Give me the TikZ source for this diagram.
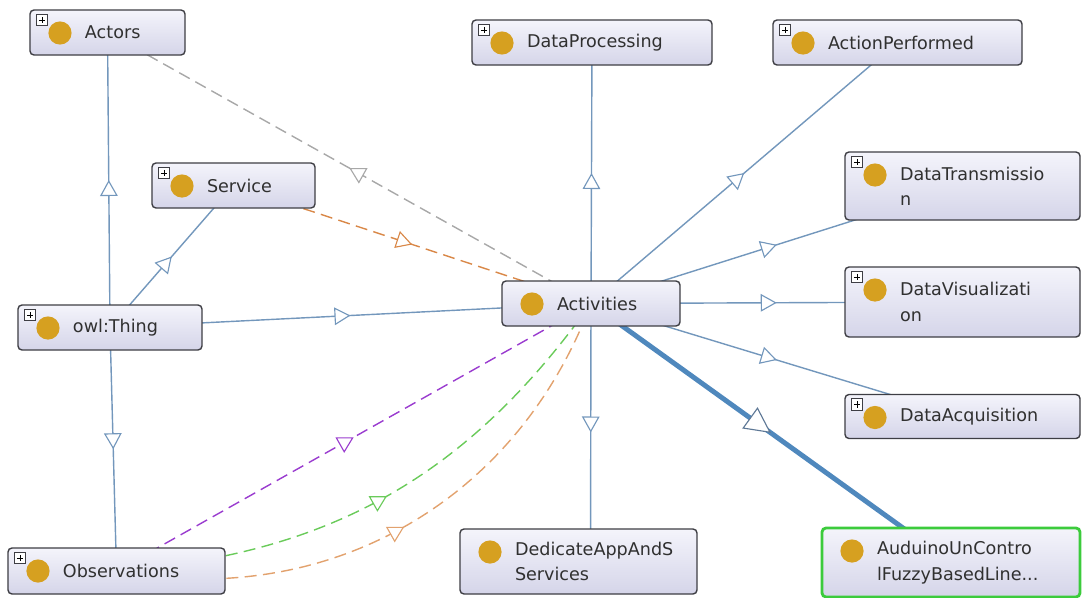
\documentclass[tikz,border=0pt]{standalone}
\usepackage{fontspec}
\setmainfont{DejaVu Sans}
\usepackage{xcolor}
\usepackage{tikz}
\usetikzlibrary{arrows.meta, decorations.markings}

\pgfdeclarelayer{bg}
\pgfsetlayers{bg,main}

\definecolor{boxtop}{HTML}{F4F4FB}
\definecolor{boxbot}{HTML}{D5D5E9}
\definecolor{boxline}{HTML}{3E3E44}
\definecolor{bulb}{HTML}{D6A020}
\definecolor{txt}{HTML}{303030}
\definecolor{isablue}{HTML}{7397BC}
\definecolor{tipblue}{HTML}{5E7896}
\definecolor{heavyblue}{HTML}{4F88BD}
\definecolor{selgreen}{HTML}{3CCB3C}
\definecolor{relgray}{HTML}{A8A8A8}
\definecolor{relorange}{HTML}{D98848}
\definecolor{relpurple}{HTML}{9A3CCF}
\definecolor{relgreen}{HTML}{6ACB5A}
\definecolor{relpeach}{HTML}{E2A26E}

\hyphenpenalty=10000
\exhyphenpenalty=10000

\begin{document}
\begin{tikzpicture}[
    x=0.25mm, y=-0.25mm,
    cls/.style={draw=boxline, line width=1pt, rounded corners=1mm,
        top color=boxtop, bottom color=boxbot, inner sep=0pt, align=left,
        font=\fontsize{12.5}{18}\selectfont, text=txt,
        path picture={\fill[bulb] ([xshift=7.5mm,yshift=-5.75mm]path picture bounding box.north west) circle (2.9mm);}},
    expand/.style={cls,
        path picture={\fill[bulb] ([xshift=7.5mm,yshift=-5.75mm]path picture bounding box.north west) circle (2.9mm);
            \draw[sharp corners, fill=white, draw=boxline, line width=0.6pt]
                ([xshift=1.6mm,yshift=-1.1mm]path picture bounding box.north west) rectangle
                ([xshift=4.4mm,yshift=-3.9mm]path picture bounding box.north west);
            \draw[sharp corners, draw=black, line width=0.7pt]
                ([xshift=2.2mm,yshift=-2.5mm]path picture bounding box.north west) --
                ([xshift=3.8mm,yshift=-2.5mm]path picture bounding box.north west)
                ([xshift=3mm,yshift=-1.7mm]path picture bounding box.north west) --
                ([xshift=3mm,yshift=-3.3mm]path picture bounding box.north west);}},
    midtip/.style={postaction={decorate}, decoration={markings,
        mark=at position 0.5 with {\arrow{Triangle[length=4mm, width=4.4mm, fill=white, line width=0.8pt]}}}},
    bigtip/.style={postaction={decorate}, decoration={markings,
        mark=at position 0.5 with {\arrow{Triangle[length=6.5mm, width=6.5mm, fill=white, line width=0.8pt, color=tipblue]}}}},
    isa/.style={draw=isablue, line width=1pt, midtip},
    rel/.style={line width=1pt, dash pattern=on 3mm off 1.6mm, midtip}
]
\useasboundingbox (0,0) rectangle (1082,598);

% classes
\node[expand, minimum width=38.75mm, minimum height=11.25mm, text width=11.25mm] (actors) at (107.5,32.5) {Actors};
\node[expand, minimum width=60mm, minimum height=11.25mm, text width=32.5mm] (dproc) at (592,42.5) {DataProcessing};
\node[expand, minimum width=62.25mm, minimum height=11.25mm, text width=34.75mm] (action) at (897.5,42.5) {ActionPerformed};
\node[expand, minimum width=58.75mm, minimum height=17mm, text width=31.25mm] (dtrans) at (962.5,186) {DataTransmissio\\n};
\node[expand, minimum width=40.75mm, minimum height=11.25mm, text width=13.25mm] (service) at (233.5,185.5) {Service};
\node[expand, minimum width=46mm, minimum height=11.25mm, text width=18.5mm] (thing) at (110,327.5) {owl:Thing};
\node[cls, minimum width=44.5mm, minimum height=11.25mm, text width=17mm] (act) at (591,303.5) {Activities};
\node[expand, minimum width=58.75mm, minimum height=17.5mm, text width=31.25mm] (dvis) at (962.5,302) {DataVisualizati\\on};
\node[expand, minimum width=58.75mm, minimum height=11mm, text width=31.25mm] (dacq) at (962.5,416.5) {DataAcquisition};
\node[expand, minimum width=54.25mm, minimum height=11.5mm, text width=26.75mm] (obs) at (116.5,571) {Observations};
\node[cls, minimum width=59.25mm, minimum height=16.25mm, text width=31.75mm] (dedic) at (578.5,561.5) {DedicateAppAndS\\Services};
\node[cls, draw=selgreen, line width=2pt, minimum width=64.5mm, minimum height=17.25mm, text width=37mm] (arduino) at (951,562.5) {AuduinoUnContro\\lFuzzyBasedLine...};

% connectors
\begin{pgfonlayer}{bg}
\draw[isa] (thing.center) -- (actors.center);
\draw[isa] (thing.center) -- (service.center);
\draw[isa] (thing.center) -- (obs.center);
\draw[isa] (thing.center) -- (act.center);
\draw[isa] (act.center) -- (dproc.center);
\draw[isa] (act.center) -- (action.center);
\draw[isa] (act.center) -- (dtrans.center);
\draw[isa] (act.center) -- (dvis.center);
\draw[isa] (act.center) -- (dacq.center);
\draw[isa] (act.center) -- ([xshift=3mm]dedic.center);
\draw[draw=heavyblue, line width=3.5pt, bigtip] (act.center) -- (arduino.center);

\draw[rel, draw=relgray] (act.center) -- (actors.center);
\draw[rel, draw=relorange] (service.center) -- (act.center);
\draw[rel, draw=relpurple] (obs.center) -- (act.center);
\draw[rel, draw=relgreen] (obs.center) to[bend right=25] (act.center);
\draw[rel, draw=relpeach] (obs.center) to[bend right=40] (act.center);
\end{pgfonlayer}
\end{tikzpicture}
\end{document}
